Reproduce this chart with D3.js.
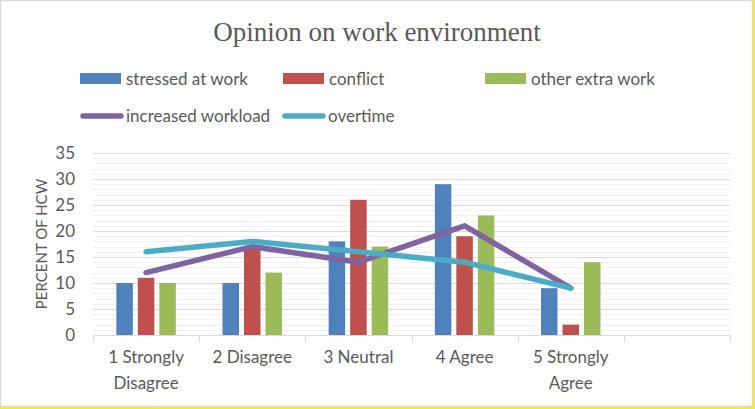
<!DOCTYPE html>
<html>
<head>
<meta charset="utf-8">
<script src="https://cdn.jsdelivr.net/npm/d3@7"></script>
<style>
  body { margin: 0; background: #fff; }
  text { font-family: Lato, "Open Sans", sans-serif; fill: #595959; }
</style>
</head>
<body>
<div id="chart"></div>
<script>
// data
const categories = ["1 Strongly Disagree", "2 Disagree", "3 Neutral", "4 Agree", "5 Strongly Agree", ""];
const stressed = [10, 10, 18, 29, 9, null];
const conflict = [11, 17, 26, 19, 2, null];
const otherExtra = [10, 12, 17, 23, 14, null];
const workload = [12, 17, 14, 21, 9, null];
const overtime = [16, 18, 16, 14, 9, null];
const yTicks = [0, 5, 10, 15, 20, 25, 30, 35];

const barSeries = [
    {name: "stressed at work", values: stressed, color: "#4f81bd"},
    {name: "conflict", values: conflict, color: "#c0504d"},
    {name: "other extra work", values: otherExtra, color: "#9bbb59"}
];
const lineSeries = [
    {name: "increased workload", values: workload, color: "#8064a2"},
    {name: "overtime", values: overtime, color: "#4bacc6"}
];

var W = 755, H = 409;
var margin = {top: 153, right: 25, bottom: 74, left: 93};
var width = W - margin.left - margin.right,
    height = H - margin.top - margin.bottom;

var svg = d3.select("#chart")
    .append("svg")
    .attr("width", W)
    .attr("height", H);

// chart border
svg.append("rect")
    .attr("x", 0.5).attr("y", 0.5)
    .attr("width", W - 3).attr("height", H - 3)
    .attr("fill", "none")
    .attr("stroke", "#d9d9d9")
    .attr("stroke-width", 1.5);
svg.append("line").attr("x1", W - 1).attr("x2", W - 1).attr("y1", 0).attr("y2", H)
    .attr("stroke", "#f3ee3c").attr("stroke-width", 2);
svg.append("line").attr("x1", 0).attr("x2", W).attr("y1", H - 1).attr("y2", H - 1)
    .attr("stroke", "#f3ee3c").attr("stroke-width", 2);

// title
svg.append("text")
    .attr("x", 377)
    .attr("y", 41)
    .attr("text-anchor", "middle")
    .style("font-family", "'Liberation Serif', serif")
    .style("font-size", "27px")
    .text("Opinion on work environment");

var g = svg.append("g")
    .attr("transform", "translate(" + margin.left + "," + margin.top + ")");

var x = d3.scaleBand()
    .domain(categories.map(function(d, i) { return i; }))
    .range([0, width]);

var y = d3.scaleLinear()
    .domain([0, 35])
    .range([height, 0]);

// minor gridlines
g.append("g")
    .selectAll("line")
    .data(d3.range(1, 35).filter(function(v) { return v % 5 !== 0; }))
    .enter().append("line")
    .attr("x1", 0).attr("x2", width)
    .attr("y1", function(d) { return Math.round(y(d)) + 0.5; })
    .attr("y2", function(d) { return Math.round(y(d)) + 0.5; })
    .attr("stroke", "#f2f2f2");

// major gridlines
g.append("g")
    .selectAll("line")
    .data(yTicks.slice(1))
    .enter().append("line")
    .attr("x1", 0).attr("x2", width)
    .attr("y1", function(d) { return Math.round(y(d)) + 0.5; })
    .attr("y2", function(d) { return Math.round(y(d)) + 0.5; })
    .attr("stroke", "#d9d9d9");

// y axis labels
g.append("g")
    .selectAll("text")
    .data(yTicks)
    .enter().append("text")
    .attr("x", -18)
    .attr("y", function(d) { return y(d); })
    .attr("dy", "0.35em")
    .attr("text-anchor", "end")
    .style("font-size", "17px")
    .text(function(d) { return d; });

svg.append("text")
    .attr("transform", "translate(47," + (margin.top + height / 2) + ")rotate(-90)")
    .attr("text-anchor", "middle")
    .style("font-size", "15px")
    .text("PERCENT OF HCW");

// bars
var barW = 16.5, gap = 5;
var groupW = barSeries.length * barW + (barSeries.length - 1) * gap;
barSeries.forEach(function(s, si) {
    g.append("g")
        .selectAll("rect")
        .data(s.values.map(function(v, i) { return {i: i, v: v}; }).filter(function(d) { return d.v != null; }))
        .enter().append("rect")
        .attr("x", function(d) { return x(d.i) + x.bandwidth() / 2 - groupW / 2 + si * (barW + gap); })
        .attr("y", function(d) { return y(d.v); })
        .attr("width", barW)
        .attr("height", function(d) { return height - y(d.v); })
        .attr("fill", s.color);
});

// x axis
var xAxis = g.append("g")
    .attr("transform", "translate(0," + height + ")");
xAxis.append("line")
    .attr("x1", 0).attr("x2", width)
    .attr("y1", 0.5).attr("y2", 0.5)
    .attr("stroke", "#d9d9d9");
xAxis.selectAll(".tk")
    .data(d3.range(categories.length + 1))
    .enter().append("line")
    .attr("class", "tk")
    .attr("x1", function(d) { return Math.round(d * x.step()) + 0.5; })
    .attr("x2", function(d) { return Math.round(d * x.step()) + 0.5; })
    .attr("y1", 0).attr("y2", 7)
    .attr("stroke", "#d9d9d9");

// category labels, wrapped to the band width
categories.forEach(function(c, i) {
    if (!c) return;
    var t = xAxis.append("text")
        .attr("x", x(i) + x.bandwidth() / 2)
        .attr("y", 28)
        .attr("text-anchor", "middle")
        .style("font-size", "17px");
    var words = c.split(" "), line = [];
    var tspan = t.append("tspan").attr("x", x(i) + x.bandwidth() / 2).attr("dy", 0);
    words.forEach(function(w) {
        line.push(w);
        tspan.text(line.join(" "));
        if (tspan.node().getComputedTextLength() > x.bandwidth() - 6 && line.length > 1) {
            line.pop();
            tspan.text(line.join(" "));
            line = [w];
            tspan = t.append("tspan").attr("x", x(i) + x.bandwidth() / 2).attr("dy", 26).text(w);
        }
    });
});

// lines
lineSeries.forEach(function(s) {
    var pts = s.values.map(function(v, i) { return [i, v]; }).filter(function(d) { return d[1] != null; });
    g.append("path")
        .datum(pts)
        .attr("fill", "none")
        .attr("stroke", s.color)
        .attr("stroke-width", 5.5)
        .attr("stroke-linecap", "round")
        .attr("stroke-linejoin", "round")
        .attr("d", d3.line()
            .x(function(d) { return x(d[0]) + x.bandwidth() / 2; })
            .y(function(d) { return y(d[1]); }));
});

// legend
var legendItems = [
    {s: barSeries[0], type: "bar", x: 80, y: 79},
    {s: barSeries[1], type: "bar", x: 283, y: 79},
    {s: barSeries[2], type: "bar", x: 485, y: 79},
    {s: lineSeries[0], type: "line", x: 80, y: 116},
    {s: lineSeries[1], type: "line", x: 282, y: 116}
];
var legend = svg.append("g");
legendItems.forEach(function(it) {
    if (it.type === "bar") {
        legend.append("rect")
            .attr("x", it.x).attr("y", it.y - 6)
            .attr("width", 41).attr("height", 11)
            .attr("fill", it.s.color);
    } else {
        legend.append("line")
            .attr("x1", it.x + 3).attr("x2", it.x + 41)
            .attr("y1", it.y).attr("y2", it.y)
            .attr("stroke", it.s.color)
            .attr("stroke-width", 5.5)
            .attr("stroke-linecap", "round");
    }
    legend.append("text")
        .attr("x", it.x + 46)
        .attr("y", it.y)
        .attr("dy", "0.35em")
        .style("font-size", "17px")
        .text(it.s.name);
});
</script>
</body>
</html>
